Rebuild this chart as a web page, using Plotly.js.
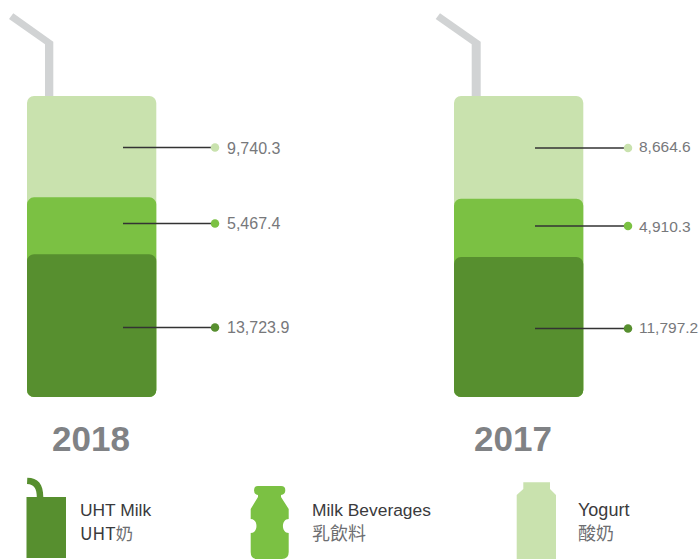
<!DOCTYPE html>
<html>
<head>
<meta charset="utf-8">
<script src="https://cdn.plot.ly/plotly-3.0.1.min.js"></script>
<style>html,body{margin:0;padding:0;background:#fff}#chart{width:700px;height:559px}</style>
</head>
<body>
<div id="chart"></div>
<script>
// ---- data ----
const categories = ['2018', '2017'];
const uhtMilk = [13723.9, 11797.2];
const milkBeverages = [5467.4, 4910.3];
const yogurt = [9740.3, 8664.6];
const seriesEn = ['UHT Milk', 'Milk Beverages', 'Yogurt'];
const seriesZh = ['<span style="color:#3a3a3c">UHT</span>奶', '乳飲料', '酸奶'];

// ---- styles & page geometry (in page pixels, through the x2/y2 helper axes) ----
const W = 700, H = 559;
const colors = ['#578f2f', '#7bc143', '#c9e2ae'];
const strawColor = '#d1d3d4';
const barLeft = [27, 454], barWidth = 129.3, barTop = 96, barBottom = 397;
const spacing = barLeft[1] - barLeft[0];
const center0 = barLeft[0] + barWidth / 2;
const pxPerPct = (barBottom - barTop) / 100;
const leaderStart = [123, 535], leaderEnd = [215, 628];
const leaderY = [[327.5, 223.5, 147.5], [328.5, 226, 148]];
const labelY = [[327, 223, 148], [327, 226, 146]];
const labelGap = [12, 11], labelSize = [16, 15.5];
const legendText = [80, 312, 578];
const legendEnSize = [17.4, 17.4, 18];

const seriesValues = [uhtMilk, milkBeverages, yogurt];
const totals = categories.map((_, i) => uhtMilk[i] + milkBeverages[i] + yogurt[i]);
const cumulative = s => categories.map((_, i) => {
  let sum = 0;
  for (let k = 0; k <= s; k++) sum += seriesValues[k][i];
  return sum / totals[i] * 100;
});

const traces = [];
// bars drawn back to front so each rounded top sits over the taller one behind it
[2, 1, 0].forEach(s => {
  traces.push({
    type: 'bar', name: seriesEn[s], x: categories, y: cumulative(s),
    base: categories.map(() => 0),
    width: barWidth / spacing,
    marker: {color: colors[s], opacity: 1, line: {width: 0}},
    hoverinfo: 'skip', showlegend: false
  });
});
// leaders
categories.forEach((c, i) => {
  [0, 1, 2].forEach(s => {
    traces.push({
      type: 'scatter', mode: 'lines', xaxis: 'x2', yaxis: 'y2',
      x: [leaderStart[i], leaderEnd[i]], y: [leaderY[i][s], leaderY[i][s]],
      line: {color: '#333333', width: 1.4}, hoverinfo: 'skip', showlegend: false
    });
    traces.push({
      type: 'scatter', mode: 'markers', xaxis: 'x2', yaxis: 'y2',
      x: [leaderEnd[i]], y: [leaderY[i][s]],
      marker: {color: colors[s], size: 8.5, line: {width: 0}},
      hoverinfo: 'skip', showlegend: false
    });
  });
});

const fmt = v => v.toLocaleString('en-US', {minimumFractionDigits: 1, maximumFractionDigits: 1});
const ann = (text, x, y, size, color, extra) => Object.assign({
  text, x, y, xref: 'x2', yref: 'y2', xanchor: 'left', yanchor: 'middle',
  showarrow: false, borderpad: 0, borderwidth: 0,
  font: {family: 'Liberation Sans, Arial, sans-serif', size, color}
}, extra || {});

const annotations = [];
categories.forEach((c, i) => {
  [0, 1, 2].forEach(s => {
    annotations.push(ann(fmt(seriesValues[s][i]), leaderEnd[i] + labelGap[i], labelY[i][s], labelSize[i], '#77787b'));
  });
});
annotations.push(ann('<b>' + categories[0] + '</b>', 91, 438.5, 35, '#808285', {xanchor: 'center'}));
annotations.push(ann('<b>' + categories[1] + '</b>', 513, 438.5, 35, '#808285', {xanchor: 'center'}));
seriesEn.forEach((t, s) => {
  annotations.push(ann(t, legendText[s], 509.5, legendEnSize[s], '#3a3a3c'));
  annotations.push(ann(seriesZh[s], legendText[s], 532, 18, '#6d6e71',
    {font: {family: 'Noto Sans CJK TC, Liberation Sans, sans-serif', size: s === 0 ? 17.4 : 18, color: '#6d6e71'}}));
});

const poly = (path, color) => ({
  type: 'path', path, xref: 'x2', yref: 'y2', fillcolor: color,
  line: {width: 0}, layer: 'below'
});
const shapes = [
  poly('M13.3,13.3 L53.3,41.7 L53.3,97 L45,97 L45,44.3 L9,19 Z', strawColor),
  poly('M440,13.3 L480.7,41.7 L480.7,97 L471.7,97 L471.7,44.3 L435.7,19 Z', strawColor),
  // UHT carton with spout
  poly('M26.5,497 L36.8,497 C36.8,489 34,484 27,484 L27.3,477.7 C38,477.7 43.3,484 43.3,497 L66,497 L66,558 L26.5,558 Z', colors[0]),
  // Milk-drink bottle
  poly('M258,486 L281,486 Q285.3,486 285.3,490.2 Q285.3,494.5 281,495 L281,497 L288.7,509 L288.7,519 C281,519 281,533 288.7,533 L288.7,552 Q288.7,559 282,559 L257,559 Q250.7,559 250.7,552 L250.7,533 C258.4,533 258.4,519 250.7,519 L250.7,509 L258,497 L258,495 Q254,494.5 254,490.2 Q254,486 258,486 Z', colors[1]),
  // Yogurt carton
  poly('M523.3,482.3 L550,482.3 L550,489 L556,495 L556,559 L516.7,559 L516.7,495 L523.3,489 Z', colors[2])
];

const layout = {
  width: W, height: H, autosize: false,
  margin: {l: 0, r: 0, t: 0, b: 0, pad: 0},
  paper_bgcolor: '#ffffff', plot_bgcolor: '#ffffff',
  showlegend: false, barmode: 'overlay', barcornerradius: 7,
  xaxis: {
    type: 'category', categoryorder: 'array', categoryarray: categories, visible: false,
    range: [-center0 / spacing, (W - center0) / spacing], fixedrange: true
  },
  yaxis: {
    visible: false, range: [(barBottom - H) / pxPerPct, barBottom / pxPerPct], fixedrange: true
  },
  xaxis2: {overlaying: 'x', visible: false, range: [0, W], anchor: 'y2', fixedrange: true},
  yaxis2: {overlaying: 'y', visible: false, range: [H, 0], anchor: 'x2', fixedrange: true},
  annotations, shapes
};
Plotly.newPlot('chart', traces, layout, {displayModeBar: false, staticPlot: true});
</script>
</body>
</html>
